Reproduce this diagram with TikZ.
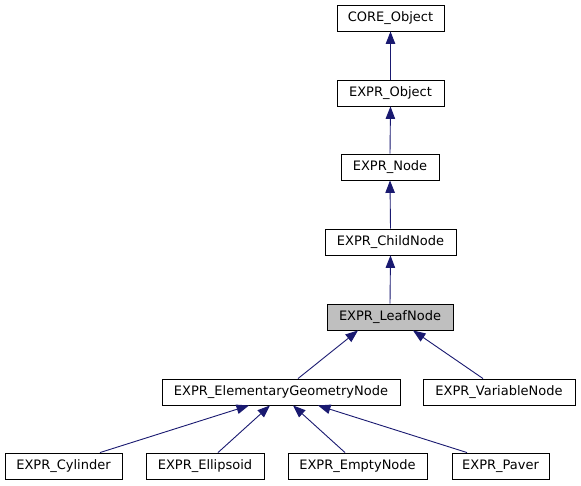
\documentclass[tikz,border=0pt]{standalone}
\usepackage{fontspec}
\setmainfont{DejaVu Sans}
\usetikzlibrary{arrows.meta}
\definecolor{edgeblue}{HTML}{191970}
\definecolor{leafgray}{HTML}{BFBFBF}
\tikzset{
  cls/.style={draw=black, line width=0.9pt, fill=white, inner sep=0pt, minimum height=26pt, font=\fontsize{13}{15}\selectfont},
  edge/.style={draw=edgeblue, line width=0.9pt, -{Triangle[length=12.5pt,width=9.5pt]}}
}
\begin{document}
\begin{tikzpicture}[x=1pt,y=-1pt]
\useasboundingbox (0,0) rectangle (581,485);
\node[cls, minimum width=107pt] (core) at (390.5,18) {CORE\_Object};
\node[cls, minimum width=107pt] (obj) at (390.5,93) {EXPR\_Object};
\node[cls, minimum width=98pt] (node) at (390,167) {EXPR\_Node};
\node[cls, minimum width=131pt] (child) at (390.5,242) {EXPR\_ChildNode};
\node[cls, minimum width=126pt, fill=leafgray] (leaf) at (390,317) {EXPR\_LeafNode};
\node[cls, minimum width=238pt] (egn) at (281,392) {EXPR\_ElementaryGeometryNode};
\node[cls, minimum width=152pt] (var) at (499,392) {EXPR\_VariableNode};
\node[cls, minimum width=117pt] (cyl) at (63.5,466) {EXPR\_Cylinder};
\node[cls, minimum width=118pt] (ell) at (205,466) {EXPR\_Ellipsoid};
\node[cls, minimum width=139pt] (empty) at (357.5,466) {EXPR\_EmptyNode};
\node[cls, minimum width=97pt] (paver) at (500.5,466) {EXPR\_Paver};
\draw[edge] (obj.north) -- (core.south);
\draw[edge] (node.north) -- (obj.south);
\draw[edge] (child.north) -- (node.south);
\draw[edge] (leaf.north) -- (child.south);
\draw[edge] ([xshift=17pt]egn.north) -- ([xshift=-32pt]leaf.south);
\draw[edge] ([xshift=-16pt]var.north) -- ([xshift=23pt]leaf.south);
\draw[edge] ([xshift=36.5pt]cyl.north) -- ([xshift=-32pt]egn.south);
\draw[edge] ([xshift=13pt]ell.north) -- ([xshift=-11pt]egn.south);
\draw[edge] ([xshift=-12.5pt]empty.north) -- ([xshift=12pt]egn.south);
\draw[edge] ([xshift=-33.5pt]paver.north) -- ([xshift=37pt]egn.south);
\end{tikzpicture}
\end{document}
